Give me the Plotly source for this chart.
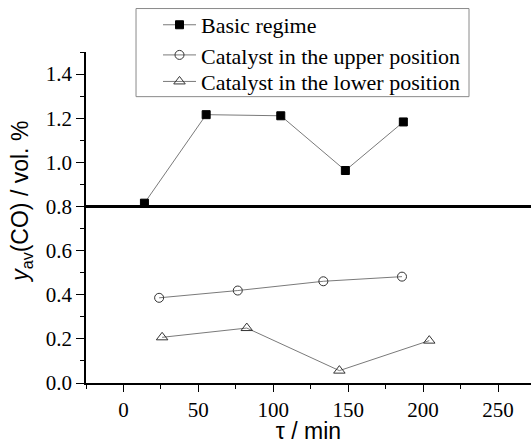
import plotly.graph_objects as go

# Data
basic_x = [14.0, 55.2, 105.0, 148.1, 186.8]
basic_y = [0.815, 1.216, 1.211, 0.963, 1.183]
upper_x = [23.8, 76.3, 133.4, 185.9]
upper_y = [0.386, 0.419, 0.461, 0.482]
lower_x = [25.8, 82.3, 144.1, 204.1]
lower_y = [0.207, 0.249, 0.056, 0.192]
names = ["Basic regime", "Catalyst in the upper position", "Catalyst in the lower position"]
threshold = 0.8
x_ticks = [0, 50, 100, 150, 200, 250]
x_minor = [-25, 25, 75, 125, 175, 225]
y_ticks = [0, 0.2, 0.4, 0.6, 0.8, 1.0, 1.2, 1.4]
y_minor = [0.1, 0.3, 0.5, 0.7, 0.9, 1.1, 1.3, 1.5]

serif = "Liberation Serif"
sans = "Liberation Sans"

fig = go.Figure()
line_style = dict(color="#7a7a7a", width=1)
fig.add_trace(go.Scatter(x=basic_x, y=basic_y, mode="lines+markers", name=names[0],
                         line=line_style, legend="legend",
                         marker=dict(symbol="square", size=8, color="black",
                                     line=dict(color="black", width=1))))
fig.add_trace(go.Scatter(x=upper_x, y=upper_y, mode="lines+markers", name=names[1],
                         line=line_style, legend="legend2",
                         marker=dict(symbol="circle-open", size=9, color="#333333",
                                     line=dict(color="#333333", width=1))))
fig.add_trace(go.Scatter(x=lower_x, y=lower_y, mode="lines+markers", name=names[2],
                         line=line_style, legend="legend3",
                         marker=dict(symbol="triangle-up-open", size=10, color="#333333",
                                     line=dict(color="#333333", width=1))))

fig.add_shape(type="line", xref="paper", x0=0, x1=1, yref="y", y0=threshold, y1=threshold,
              line=dict(color="black", width=3))
# legend frame
fig.add_shape(type="rect", xref="paper", yref="paper", x0=0.1124, x1=0.8607, y0=0.8651, y1=1.1313,
              line=dict(color="#8a8a8a", width=1), fillcolor="rgba(0,0,0,0)")

fig.add_annotation(text="<i>y</i><sub>av</sub>(CO) / vol. %", xref="paper", yref="paper",
                   x=-0.1438, y=0.5475, xanchor="center", yanchor="middle", textangle=-90,
                   showarrow=False, font=dict(family=sans, size=23, color="black"))

leg_common = dict(xanchor="left", yanchor="middle", borderwidth=0, bgcolor="rgba(0,0,0,0)",
                  font=dict(family=serif, size=22, color="black"), itemwidth=33)

fig.update_layout(
    width=531, height=444,
    margin=dict(l=86, r=0, t=52.4, b=61),
    plot_bgcolor="white", paper_bgcolor="white",
    showlegend=True,
    legend=dict(x=0.1618, y=1.0817, **leg_common),
    legend2=dict(x=0.1618, y=0.9906, **leg_common),
    legend3=dict(x=0.1618, y=0.9105, **leg_common),
    xaxis=dict(range=[-25, 272], tickmode="array", tickvals=x_ticks,
               showgrid=False, zeroline=False, showline=True, linecolor="black", linewidth=1.5,
               ticks="outside", ticklen=7, tickwidth=1.2, tickcolor="black",
               minor=dict(tickvals=x_minor, ticks="outside", ticklen=4,
                          tickcolor="black", tickwidth=1),
               tickfont=dict(family=serif, size=21, color="black"),
               title=dict(text="τ / min", font=dict(family=sans, size=23, color="black"), standoff=4)),
    yaxis=dict(range=[0, 1.5], tickmode="array", tickvals=y_ticks,
               ticktext=["%.1f" % v for v in y_ticks],
               showgrid=False, zeroline=False, showline=True, linecolor="black", linewidth=1.5,
               ticks="outside", ticklen=8, tickwidth=1.2, tickcolor="black",
               minor=dict(tickvals=y_minor, ticks="outside", ticklen=4,
                          tickcolor="black", tickwidth=1),
               tickfont=dict(family=serif, size=21, color="black")),
)

fig.write_html("out.html")
